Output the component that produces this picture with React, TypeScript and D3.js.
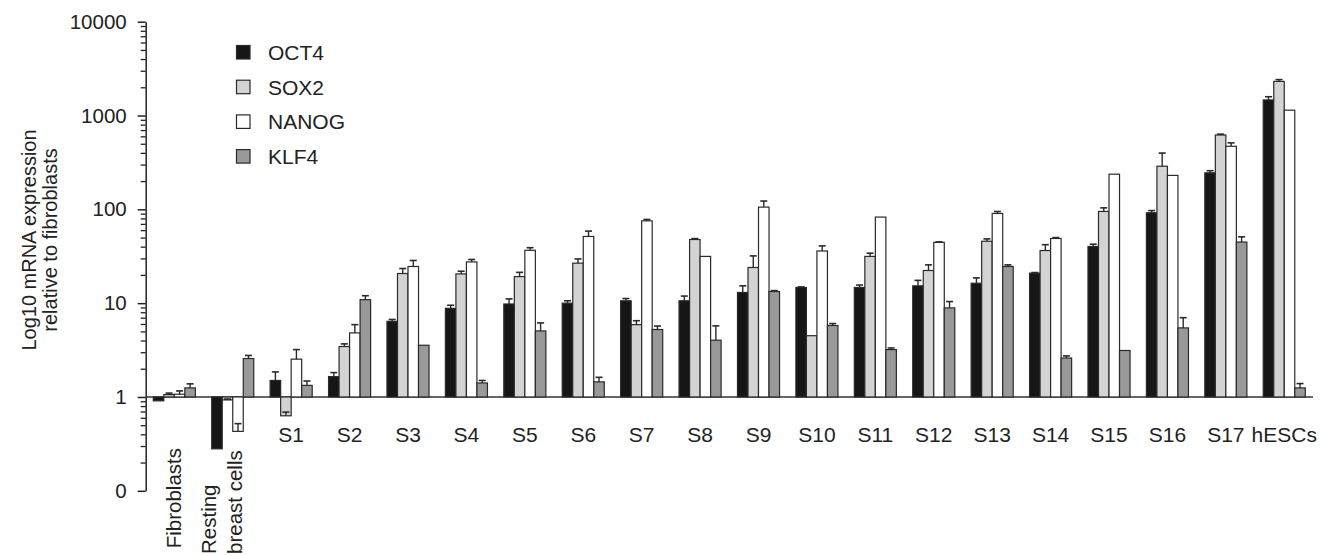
import React, { useEffect, useRef } from "react";
import * as d3 from "d3";

// categories along x
const categories = [
  "Fibroblasts", "Resting breast cells",
  "S1", "S2", "S3", "S4", "S5", "S6", "S7", "S8", "S9",
  "S10", "S11", "S12", "S13", "S14", "S15", "S16", "S17", "hESCs",
];
const genes = ["OCT4", "SOX2", "NANOG", "KLF4"];

// mean values relative to fibroblasts
const oct4 = [0.91, 0.28, 1.5, 1.65, 6.4, 8.8, 9.8, 10.0, 10.6, 10.6, 13.0, 14.7, 14.7, 15.3, 16.3, 20.9, 40.2, 92, 245, 1466];
const sox2 = [1.06, 0.93, 0.63, 3.45, 20.7, 20.5, 19.2, 26.7, 5.9, 47.7, 24.0, 4.5, 31.5, 22.3, 45.7, 36.4, 95, 288, 620, 2310];
const nanog = [1.07, 0.43, 2.53, 4.82, 24.6, 27.5, 36.6, 51.4, 75.4, 31.5, 105.6, 36, 82.7, 44.5, 90.4, 48.9, 237, 230, 470, 1140];
const klf4 = [1.25, 2.57, 1.33, 10.9, 3.56, 1.41, 5.06, 1.45, 5.24, 4.03, 13.3, 5.78, 3.2, 8.9, 24.6, 2.6, 3.13, 5.45, 44.8, 1.25];

// error bar (upper) sizes
const oct4Err = [0, 0, 0.35, 0.17, 0.3, 0.7, 1.3, 0.6, 0.6, 1.3, 2.3, 0.2, 0.9, 2.2, 2.3, 0.3, 2.3, 5, 13, 120];
const sox2Err = [0.04, 0.02, 0.06, 0.23, 2.7, 1.4, 2.1, 2.9, 0.6, 1.1, 7.9, 0, 2.6, 3.3, 2.7, 5.6, 8.7, 110, 13, 103];
const nanogErr = [0.09, 0.09, 0.67, 1.08, 3.9, 1.7, 2.4, 7.2, 2.6, 0, 17, 4.8, 0, 0.5, 4.4, 1.1, 0, 0, 41, 0];
const klf4Err = [0.13, 0.2, 0.15, 1.1, 0, 0.09, 1.1, 0.17, 0.46, 1.7, 0.3, 0.28, 0.13, 1.5, 1.0, 0.14, 0, 1.55, 6.1, 0.14];

const majorTicks = [0.1, 1, 10, 100, 1000, 10000];
const yTitle = ["Log10 mRNA expression", "relative to fibroblasts"];

const colors = ["#161616", "#d2d3d2", "#ffffff", "#999999"];
const FONT = "'Liberation Sans', Arial, Helvetica, sans-serif";

export default function App() {
  const ref = useRef<SVGSVGElement>(null);

  useEffect(() => {
    const svg = d3.select(ref.current);
    svg.selectAll("*").remove();

    const series = [oct4, sox2, nanog, klf4];
    const errs = [oct4Err, sox2Err, nanogErr, klf4Err];

    const y = d3.scaleLog().domain([0.1, 10000]).range([490.8, 21.7]);
    const x0 = d3.scaleBand().domain(categories).range([153.3, 1305.3]).paddingInner(0.28).paddingOuter(0);
    const x1 = d3.scaleBand().domain(genes).range([0, x0.bandwidth()]).padding(0);

    const g = svg.append("g").attr("font-family", FONT);

    // minor log ticks
    const minor: number[] = [];
    for (let e = -1; e < 4; e++) {
      for (let k = 2; k < 10; k++) minor.push(k * Math.pow(10, e));
    }
    const minorAxis = g.append("g")
      .attr("transform", "translate(145.7,0)")
      .call(d3.axisLeft(y).tickValues(minor).tickSize(5).tickSizeOuter(0).tickFormat(() => ""));
    minorAxis.select(".domain").remove();
    minorAxis.selectAll("line").attr("stroke", "#222").attr("stroke-width", 1.3);

    const yAxis = g.append("g")
      .attr("transform", "translate(145.7,0)")
      .call(d3.axisLeft(y).tickValues(majorTicks).tickSize(8).tickSizeOuter(0).tickPadding(11)
        .tickFormat((d: any) => (d === 0.1 ? "0" : String(d))));
    yAxis.select(".domain").attr("stroke", "#222").attr("stroke-width", 1.5);
    yAxis.selectAll("line").attr("stroke", "#222").attr("stroke-width", 1.5);
    yAxis.selectAll("text").attr("font-family", FONT).attr("font-size", 20.5).attr("fill", "#222");

    // y title
    yTitle.forEach((t, i) => {
      g.append("text")
        .attr("transform", `translate(${36 + i * 21},240) rotate(-90)`)
        .attr("text-anchor", "middle")
        .attr("font-size", 20)
        .attr("fill", "#222")
        .text(t);
    });

    // baseline at 1
    g.append("line")
      .attr("x1", 145.7).attr("x2", 1313)
      .attr("y1", y(1)).attr("y2", y(1))
      .attr("stroke", "#333").attr("stroke-width", 1.5);

    // bars
    series.forEach((vals, si) => {
      const sg = g.append("g");
      sg.selectAll("rect")
        .data(vals)
        .join("rect")
        .attr("x", (d, i) => x0(categories[i])! + x1(genes[si])!)
        .attr("width", x1.bandwidth())
        .attr("y", d => Math.min(y(d), y(1)))
        .attr("height", d => Math.abs(y(d) - y(1)))
        .attr("fill", colors[si])
        .attr("stroke", "#2a2a2a")
        .attr("stroke-width", 1.2);

      // error bars
      vals.forEach((v, i) => {
        const e = errs[si][i];
        if (!e) return;
        const cx = x0(categories[i])! + x1(genes[si])! + x1.bandwidth() / 2;
        sg.append("line")
          .attr("x1", cx).attr("x2", cx)
          .attr("y1", y(v)).attr("y2", y(v + e))
          .attr("stroke", "#2a2a2a").attr("stroke-width", 1.4);
        sg.append("line")
          .attr("x1", cx - 3.5).attr("x2", cx + 3.5)
          .attr("y1", y(v + e)).attr("y2", y(v + e))
          .attr("stroke", "#2a2a2a").attr("stroke-width", 1.6);
      });
    });

    // category labels
    categories.slice(2).forEach(c => {
      g.append("text")
        .attr("x", x0(c)! + x0.bandwidth() / 2)
        .attr("y", 442)
        .attr("text-anchor", "middle")
        .attr("font-size", 21)
        .attr("fill", "#222")
        .text(c);
    });
    g.append("text")
      .attr("transform", "translate(181,448) rotate(-90)")
      .attr("text-anchor", "end")
      .attr("font-size", 20.5)
      .attr("fill", "#222")
      .text(categories[0]);
    categories[1].replace("Resting ", "Resting\n").split("\n").forEach((t, i) => {
      g.append("text")
        .attr("transform", `translate(${216 + i * 26},554) rotate(-90)`)
        .attr("text-anchor", "start")
        .attr("font-size", 20.5)
        .attr("fill", "#222")
        .text(t);
    });

    // legend
    const leg = g.append("g");
    genes.forEach((name, i) => {
      const cy = 52.5 + i * 34.7;
      leg.append("rect")
        .attr("x", 236.5).attr("y", cy - 7)
        .attr("width", 13.5).attr("height", 13.5)
        .attr("fill", colors[i])
        .attr("stroke", "#2a2a2a").attr("stroke-width", 1.2);
      leg.append("text")
        .attr("x", 268).attr("y", cy + 7.3)
        .attr("font-size", 21)
        .attr("fill", "#222")
        .text(name);
    });
  }, []);

  return (
    <svg
      ref={ref}
      width={1333}
      height={555}
      style={{ position: "absolute", left: 0, top: 0, background: "#fff" }}
    />
  );
}
